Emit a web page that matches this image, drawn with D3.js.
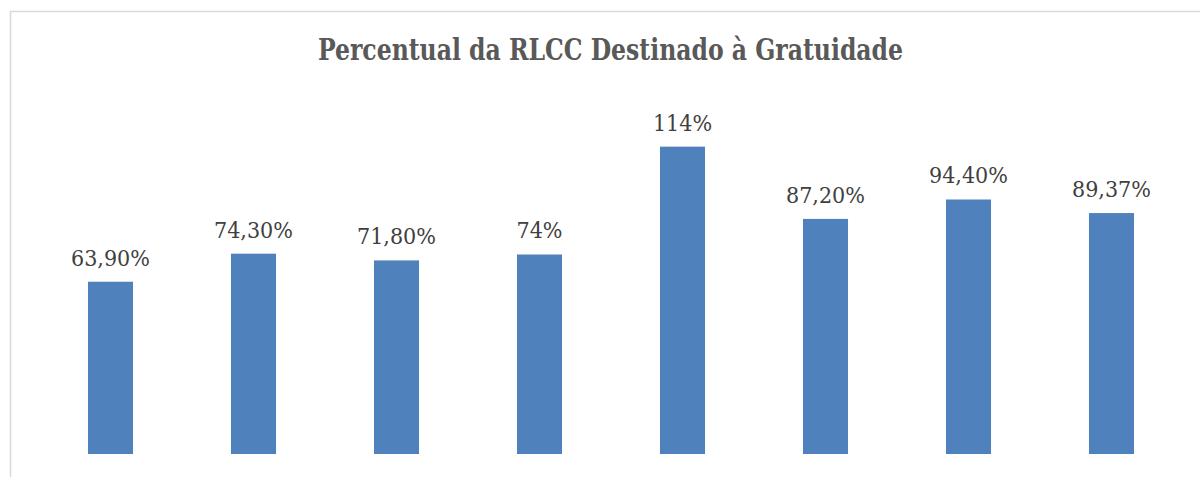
<!DOCTYPE html>
<html>
<head>
<meta charset="utf-8">
<script src="https://cdn.jsdelivr.net/npm/d3@7"></script>
<style>
	body { margin: 0; background: #fff; }
	text { font-family: "DejaVu Serif Condensed", "DejaVu Serif", serif; font-stretch: condensed; }
</style>
</head>
<body>
<div class="js-graph"></div>
<script>
(function(d3) {
	var w = 1200,
		h = 477,
		graph = d3.select('.js-graph').append('svg');
	graph.attr('width', w).attr('height', h);

	// data
	var
		categories = ['1', '2', '3', '4', '5', '6', '7', '8'],
		values = [63.9, 74.3, 71.8, 74, 114, 87.2, 94.4, 89.37],
		labels = ['63,90%', '74,30%', '71,80%', '74%', '114%', '87,20%', '94,40%', '89,37%'],
		title = 'Percentual da RLCC Destinado à Gratuidade';

	var rows = categories.map(function(c, i) {
		return { cat: c, value: values[i], label: labels[i] };
	});

	var x = d3.scaleBand()
		.domain(categories)
		.range([39, 1183])
		.paddingInner(0.685)
		.paddingOuter(0.3425);

	var y = d3.scaleLinear()
		.domain([0, 120])
		.range([454, 454 - 120 * 2.696]);

	// chart frame
	graph.append('rect')
		.attr('x', 10.5)
		.attr('y', 11.5)
		.attr('width', 1300)
		.attr('height', 600)
		.attr('fill', 'none')
		.style('stroke', '#d9d9d9')
		.style('stroke-width', 1.5);

	graph.append('text')
		.attr('x', 610.5)
		.attr('y', 60)
		.attr('text-anchor', 'middle')
		.attr('textLength', 585)
		.attr('lengthAdjust', 'spacingAndGlyphs')
		.style('font-weight', 'bold')
		.style('font-size', '30px')
		.style('fill', '#595959')
		.text(title);

	graph
		.selectAll('rect.bar')
		.data(rows)
		.enter()
		.append('rect')
		.attr('class', 'bar')
		.attr('x', function(d) { return x(d.cat); })
		.attr('y', function(d) { return y(d.value); })
		.attr('width', x.bandwidth())
		.attr('height', function(d) { return y(0) - y(d.value); })
		.attr('fill', '#4f81bd');

	graph
		.selectAll('text.label')
		.data(rows)
		.enter()
		.append('text')
		.attr('class', 'label')
		.attr('x', function(d) { return x(d.cat) + x.bandwidth() / 2; })
		.attr('y', function(d) { return y(d.value) - 16; })
		.attr('text-anchor', 'middle')
		.style('font-size', '23px')
		.style('fill', '#404040')
		.text(function(d) { return d.label; });
})(d3);
</script>
</body>
</html>
